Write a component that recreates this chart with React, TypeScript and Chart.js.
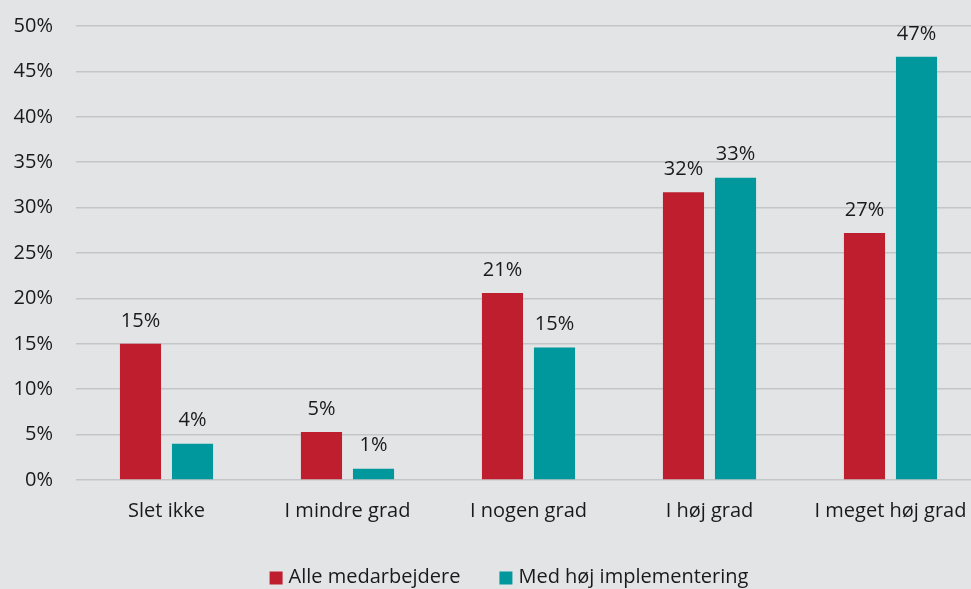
import React, { useEffect, useRef } from "react";
import { Chart, registerables } from "chart.js";

Chart.register(...registerables);

const categories = ["Slet ikke", "I mindre grad", "I nogen grad", "I høj grad", "I meget høj grad"];
const allEmployees = [15.0, 5.3, 20.6, 31.7, 27.2];
const highImplementation = [4.0, 1.25, 14.6, 33.3, 46.6];
const seriesNames = ["Alle medarbejdere", "Med høj implementering"];
const yTicks = [0, 5, 10, 15, 20, 25, 30, 35, 40, 45, 50];

const RED = "#BE1E2D";
const TEAL = "#00979D";
const BG = "#E3E4E6";
const TEXT = "#1a1a1a";
const FONT = "'Open Sans', 'Noto Sans', sans-serif";
const FS = 20;

const bgPlugin = {
  id: "bg",
  beforeDraw(chart: any) {
    const ctx = chart.ctx;
    ctx.save();
    ctx.fillStyle = BG;
    ctx.fillRect(0, 0, chart.width, chart.height);
    ctx.restore();
  },
};

const labelPlugin = {
  id: "valueLabels",
  afterDatasetsDraw(chart: any) {
    const ctx = chart.ctx;
    ctx.save();
    ctx.font = `${FS}px ${FONT}`;
    ctx.fillStyle = TEXT;
    ctx.textAlign = "center";
    ctx.textBaseline = "middle";
    chart.data.datasets.forEach((ds: any, di: number) => {
      const meta = chart.getDatasetMeta(di);
      meta.data.forEach((el: any, i: number) => {
        const v = ds.data[i];
        ctx.fillText(Math.round(v) + "%", el.x, el.y - 23);
      });
    });
    ctx.restore();
  },
};

const legendPlugin = {
  id: "customLegend",
  afterDraw(chart: any) {
    const ctx = chart.ctx;
    ctx.save();
    ctx.font = `${FS}px ${FONT}`;
    const box = 13;
    const boxGap = 6;
    const itemGap = 39;
    const items = chart.data.datasets.map((ds: any) => ({
      text: ds.label,
      color: ds.backgroundColor,
      w: ctx.measureText(ds.label).width,
    }));
    const total = items.reduce((s: number, it: any) => s + box + boxGap + it.w, 0) + itemGap * (items.length - 1);
    const cx = 509;
    const cy = 577;
    let x = cx - total / 2;
    ctx.textBaseline = "middle";
    ctx.textAlign = "left";
    items.forEach((it: any) => {
      ctx.fillStyle = it.color;
      ctx.fillRect(x, cy - box / 2 + 1, box, box);
      x += box + boxGap;
      ctx.fillStyle = TEXT;
      ctx.fillText(it.text, x, cy);
      x += it.w + itemGap;
    });
    ctx.restore();
  },
};

export default function App() {
  const ref = useRef<HTMLCanvasElement>(null);
  useEffect(() => {
    if (!ref.current) return;
    const chart = new Chart(ref.current, {
      type: "bar",
      data: {
        labels: categories,
        datasets: [
          { label: seriesNames[0], data: allEmployees, backgroundColor: RED },
          { label: seriesNames[1], data: highImplementation, backgroundColor: TEAL },
        ],
      },
      options: {
        animation: false,
        responsive: false,
        devicePixelRatio: 1,
        layout: { padding: { top: 26, left: 4, right: 39, bottom: 66 } },
        datasets: { bar: { categoryPercentage: 0.575, barPercentage: 0.79 } },
        scales: {
          x: {
            grid: { display: false, drawTicks: false },
            border: { display: false },
            ticks: { color: TEXT, font: { family: FONT, size: FS }, padding: 19, maxRotation: 0 },
            afterFit: (scale: any) => {
              scale.height = 43;
            },
          },
          y: {
            min: 0,
            max: 50,
            afterBuildTicks: (axis: any) => {
              axis.ticks = yTicks.map((v) => ({ value: v }));
            },
            grid: { color: "#C4C5C7", lineWidth: 1.5, drawTicks: false },
            border: { display: false },
            ticks: {
              color: TEXT,
              font: { family: FONT, size: FS },
              padding: 23,
              callback: (v: any) => v + "%",
            },
            afterFit: (scale: any) => {
              scale.width = 72;
              scale.paddingTop = 0;
              scale.paddingBottom = 0;
            },
          },
        },
        plugins: {
          legend: { display: false },
          tooltip: { enabled: false },
        },
      },
      plugins: [bgPlugin, labelPlugin, legendPlugin],
    });
    return () => chart.destroy();
  }, []);
  return (
    <div style={{ position: "fixed", left: 0, top: 0, width: 971, height: 589, overflow: "hidden", background: BG }}>
      <canvas ref={ref} width={1020} height={589} style={{ display: "block" }} />
    </div>
  );
}
